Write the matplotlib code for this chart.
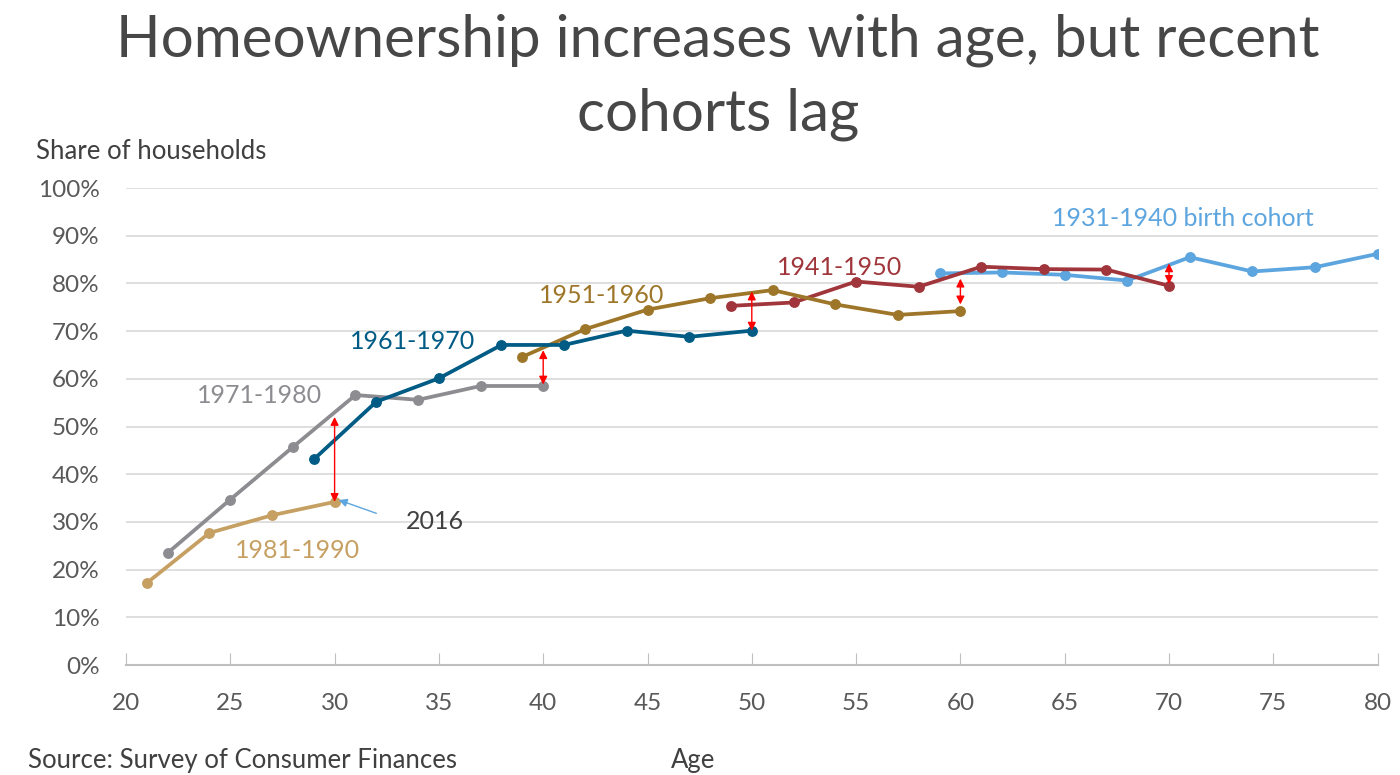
import matplotlib
matplotlib.use("Agg")
import matplotlib.pyplot as plt
from matplotlib.ticker import FuncFormatter

plt.rcParams['font.family'] = ['Lato', 'DejaVu Sans']

# Data (age, share of households %)
age_1931 = [59, 62, 65, 68, 71, 74, 77, 80]
own_1931 = [82.1, 82.3, 81.8, 80.6, 85.5, 82.5, 83.4, 86.2]
age_1941 = [49, 52, 55, 58, 61, 64, 67, 70]
own_1941 = [75.3, 76.0, 80.4, 79.3, 83.5, 83.0, 82.9, 79.5]
age_1951 = [39, 42, 45, 48, 51, 54, 57, 60]
own_1951 = [64.6, 70.4, 74.5, 76.9, 78.6, 75.6, 73.4, 74.2]
age_1961 = [29, 32, 35, 38, 41, 44, 47, 50]
own_1961 = [43.1, 55.2, 60.1, 67.1, 67.1, 70.1, 68.8, 70.1]
age_1971 = [22, 25, 28, 31, 34, 37, 40]
own_1971 = [23.5, 34.7, 45.7, 56.6, 55.6, 58.5, 58.5]
age_1981 = [21, 24, 27, 30]
own_1981 = [17.2, 27.7, 31.4, 34.2]

# Gap arrows: age, low, high
gap_age = [30, 40, 50, 60, 70]
gap_low = [34.2, 58.8, 70.1, 75.6, 79.9]
gap_high = [52.0, 66.0, 78.3, 81.0, 84.2]

x_ticks = list(range(20, 81, 5))
y_ticks = list(range(0, 101, 10))

c1931 = '#5DA5DE'
c1941 = '#A0363B'
c1951 = '#9E7629'
c1961 = '#005B85'
c1971 = '#8C8C91'
c1981 = '#C6A062'
text_dark = '#404040'
tick_col = '#595959'

fig = plt.figure(figsize=(14, 7.75), dpi=100)
ax = fig.add_axes([0.09, 0.1419, 0.894, 0.6155])

series = [
    (age_1931, own_1931, c1931),
    (age_1941, own_1941, c1941),
    (age_1951, own_1951, c1951),
    (age_1971, own_1971, c1971),
    (age_1961, own_1961, c1961),
    (age_1981, own_1981, c1981),
]
for xs, ys, col in series:
    ax.plot(xs, ys, color=col, lw=2.7, marker='o', ms=6.8, zorder=3,
            solid_capstyle='round')

for a, lo, hi in zip(gap_age, gap_low, gap_high):
    ax.annotate('', xy=(a, hi), xytext=(a, lo),
                arrowprops=dict(arrowstyle='<|-|>', color='red', lw=1.0,
                                mutation_scale=12, shrinkA=0, shrinkB=0),
                zorder=4)

# 2016 pointer
ax.annotate('', xy=(30.2, 34.6), xytext=(32.0, 31.8),
            arrowprops=dict(arrowstyle='-|>', color='#5DA5DE', lw=1.0,
                            mutation_scale=12, shrinkA=0, shrinkB=0))
ax.text(34.8, 30.0, '2016', color=text_dark, fontsize=18, ha='center', va='center')

lab_kw = dict(fontsize=18, ha='center', va='center')
ax.text(26.4, 56.4, '1971-1980', color=c1971, **lab_kw)
ax.text(28.2, 24.1, '1981-1990', color=c1981, **lab_kw)
ax.text(33.75, 67.9, '1961-1970', color=c1961, **lab_kw)
ax.text(42.8, 77.4, '1951-1960', color=c1951, **lab_kw)
ax.text(54.2, 83.4, '1941-1950', color=c1941, **lab_kw)
ax.text(70.65, 93.7, '1931-1940 birth cohort', color=c1931, **lab_kw)

ax.set_xlim(20, 80)
ax.set_ylim(0, 100)
ax.set_xticks(x_ticks)
ax.set_yticks(y_ticks)
ax.yaxis.set_major_formatter(FuncFormatter(lambda v, p: f'{int(v)}%'))
ax.grid(axis='y', color='#D9D9D9', lw=1.2)
ax.set_axisbelow(True)
for s in ['top', 'right', 'left']:
    ax.spines[s].set_visible(False)
ax.spines['bottom'].set_color('#BFBFBF')
ax.spines['bottom'].set_linewidth(1.5)
ax.tick_params(axis='x', direction='in', length=9, color='#BFBFBF',
               labelsize=17.5, labelcolor=tick_col, pad=20)
ax.tick_params(axis='y', length=0, labelsize=17.5, labelcolor=tick_col, pad=19)

title_kw = dict(fontsize=42, color='#474747', ha='center', va='center')
fig.text(0.513, 0.948, 'Homeownership increases with age, but recent', **title_kw)
fig.text(0.513, 0.853, 'cohorts lag', **title_kw)
fig.text(0.026, 0.804, 'Share of households', fontsize=18.5, color=text_dark,
         ha='left', va='center')
fig.text(0.02, 0.019, 'Source: Survey of Consumer Finances', fontsize=18.5,
         color=text_dark, ha='left', va='center')
fig.text(0.495, 0.019, 'Age', fontsize=18.5, color=text_dark, ha='center',
         va='center')

fig.savefig('out.png', dpi=100)
